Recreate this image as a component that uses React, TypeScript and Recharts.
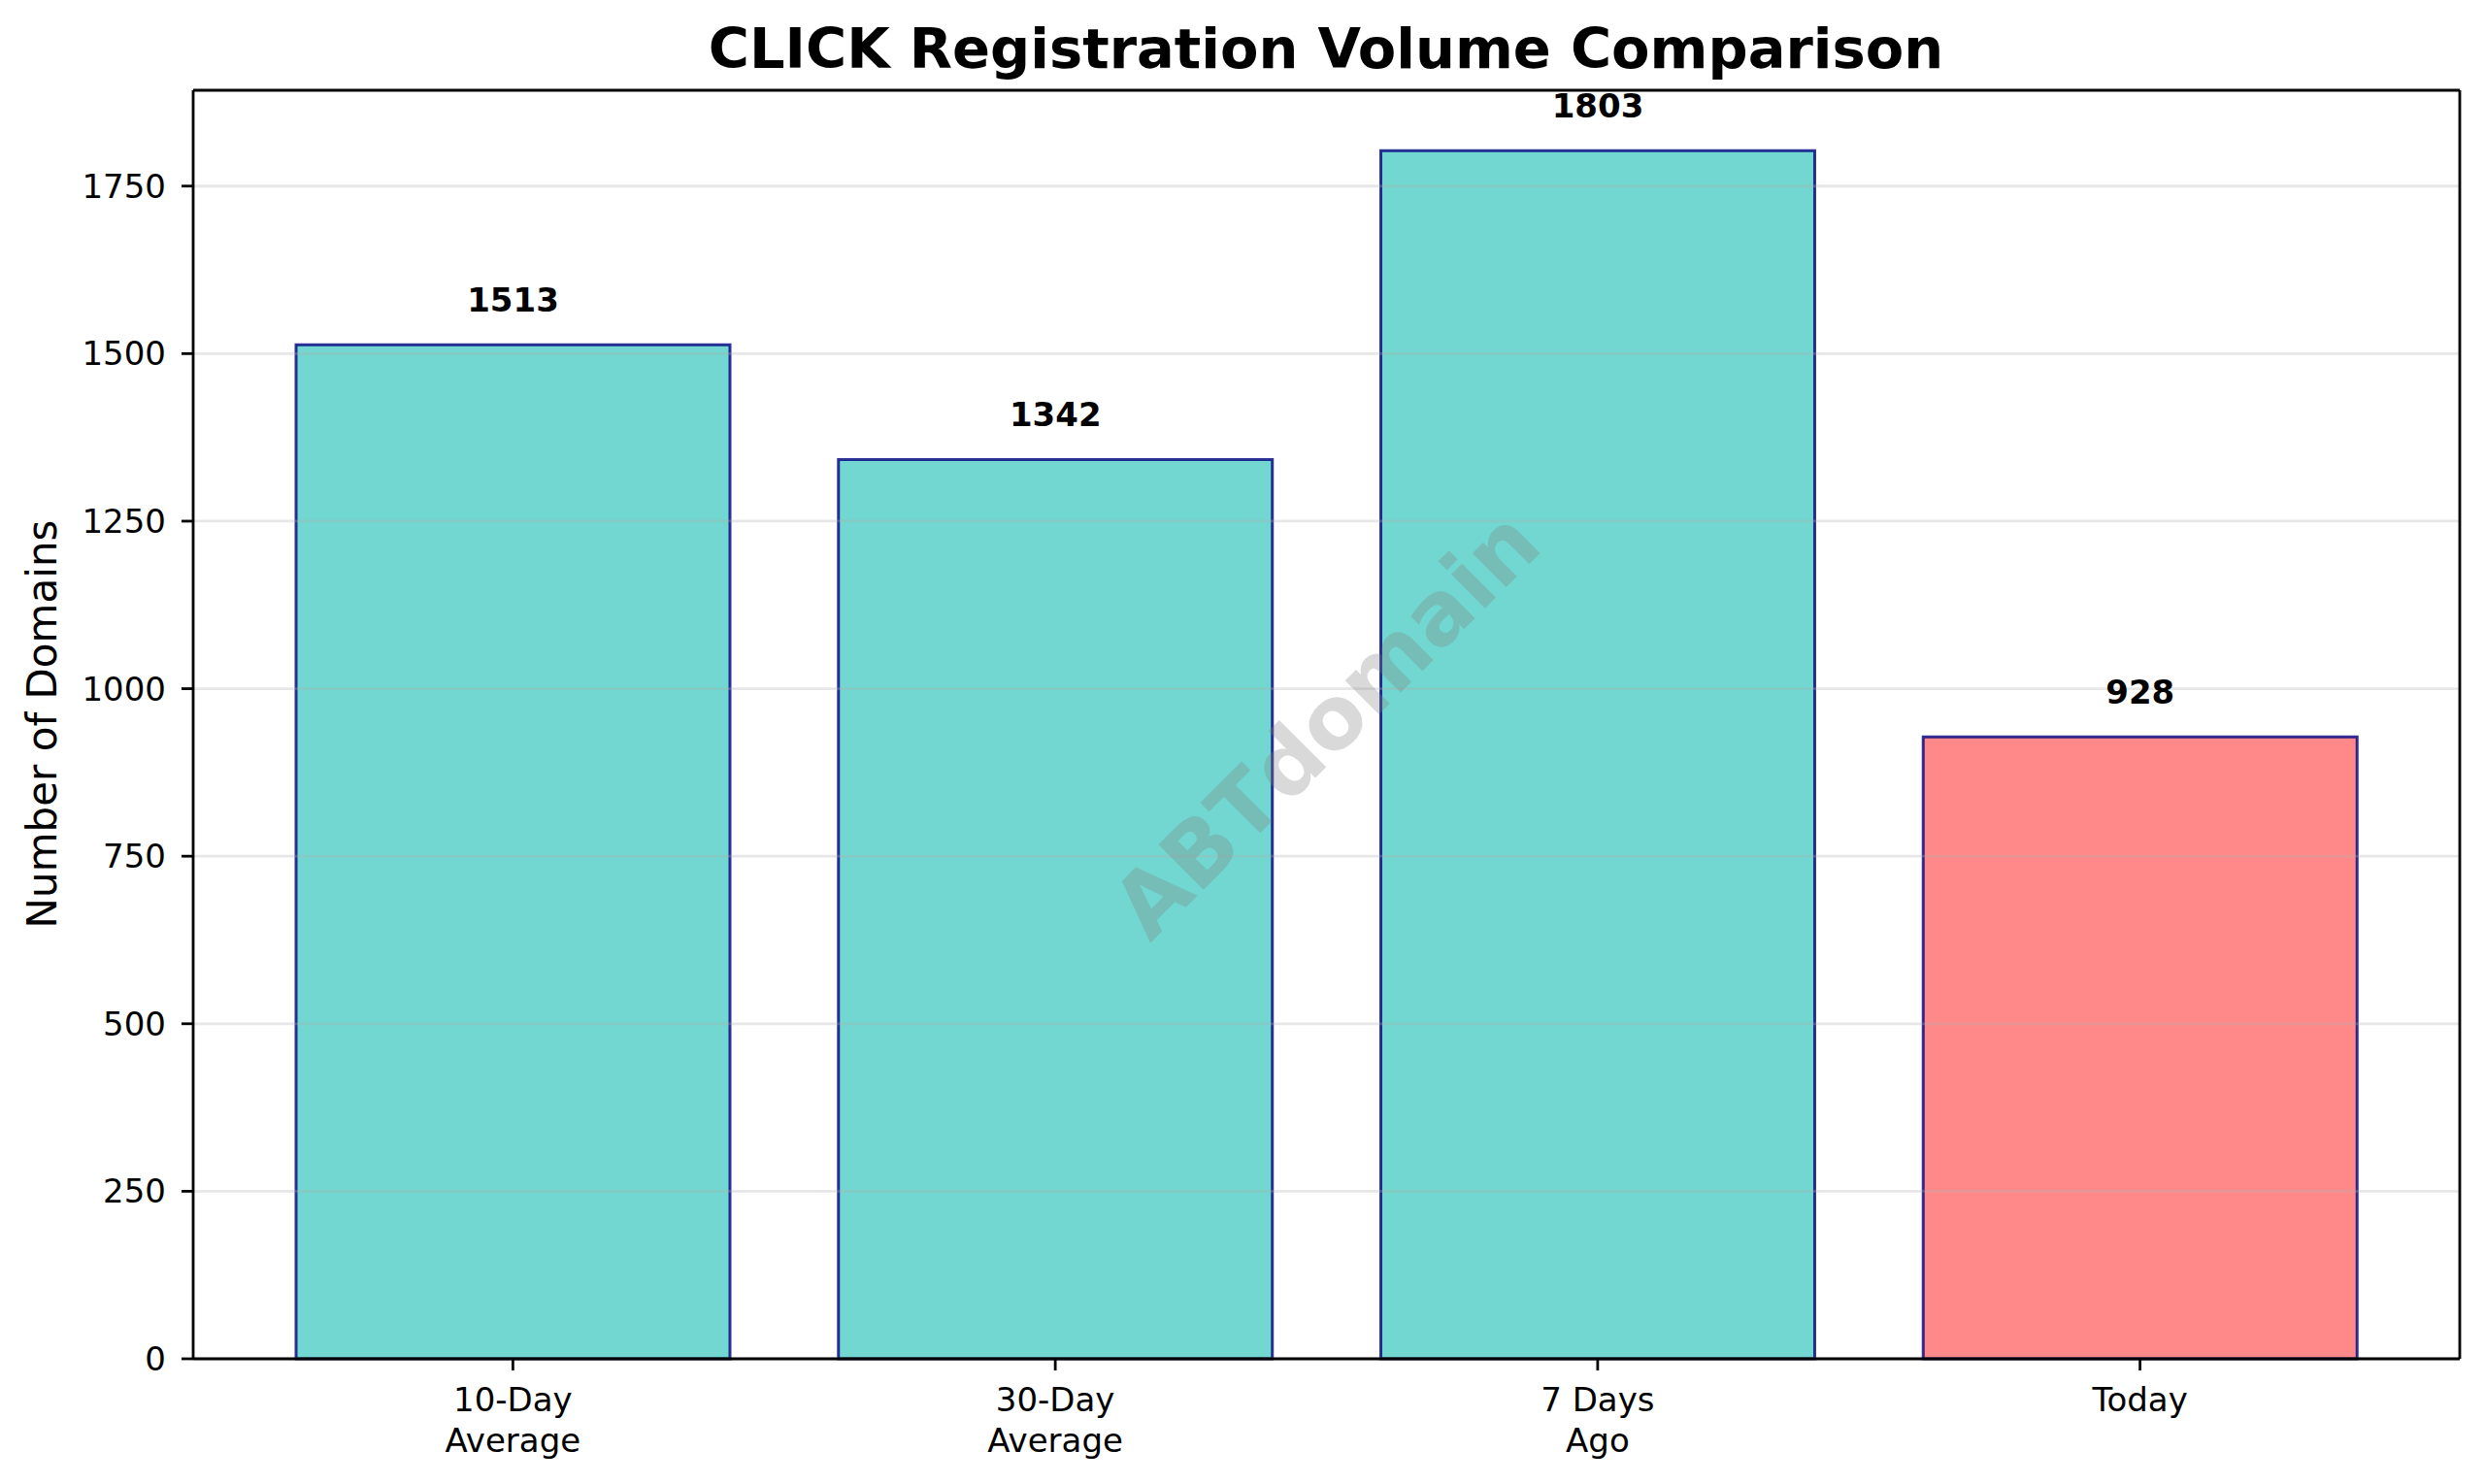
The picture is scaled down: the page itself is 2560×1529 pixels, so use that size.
import { BarChart, Bar, XAxis, YAxis, Cell, LabelList, ReferenceLine } from 'recharts';

const categories = ['10-Day\nAverage', '30-Day\nAverage', '7 Days\nAgo', 'Today'];
const volumes = [1513, 1342, 1803, 928];
const barColors = ['#4ECDC4', '#4ECDC4', '#4ECDC4', '#FF6B6B'];
const yTicks = [0, 250, 500, 750, 1000, 1250, 1500, 1750];
const yMax = 1893;

const FONT = '"DejaVu Sans", sans-serif';
const AXIS = { stroke: '#000', strokeWidth: 2.8 };

const CategoryTick = ({ x, y, payload }: any) => {
  const lines = String(payload.value).split('\n');
  return (
    <text x={x} y={y} textAnchor="middle" fontSize={34} fill="#000" fontFamily={FONT}>
      {lines.map((l, i) => (
        <tspan key={i} x={x} dy={42}>
          {l}
        </tspan>
      ))}
    </text>
  );
};

const ValueLabel = ({ x, y, width, value }: any) => (
  <text
    x={x + width / 2}
    y={y - 34}
    textAnchor="middle"
    fontSize={34}
    fontWeight="bold"
    fill="#000"
    fontFamily={FONT}
  >
    {value}
  </text>
);

export default function App() {
  const data = categories.map((name, i) => ({ name, value: volumes[i] }));

  return (
    <div style={{ position: 'absolute', left: 0, top: 0, width: 2560, height: 1529, background: '#fff' }}>
      <BarChart width={2560} height={1529} data={data} margin={{ top: 92, right: 25, bottom: 0, left: 0 }}>
        <XAxis
          dataKey="name"
          height={129}
          padding={{ left: 50, right: 50 }}
          interval={0}
          tickSize={12}
          tickMargin={0}
          tickLine={AXIS}
          axisLine={AXIS}
          tick={<CategoryTick />}
        />
        <XAxis
          xAxisId="top"
          orientation="top"
          dataKey="name"
          height={1}
          tick={false}
          tickLine={false}
          axisLine={AXIS}
        />
        <YAxis
          width={199}
          domain={[0, yMax]}
          ticks={yTicks}
          interval={0}
          tickSize={12}
          tickMargin={16}
          tickLine={AXIS}
          axisLine={AXIS}
          tick={{ fill: '#000', fontSize: 34, fontFamily: FONT }}
        />
        <YAxis
          yAxisId="right"
          orientation="right"
          width={1}
          tick={false}
          tickLine={false}
          axisLine={AXIS}
        />
        <Bar
          dataKey="value"
          barSize={447}
          stroke="#000080"
          strokeOpacity={0.8}
          strokeWidth={3}
          isAnimationActive={false}
        >
          {data.map((d, i) => (
            <Cell key={d.name} fill={barColors[i]} fillOpacity={0.8} />
          ))}
          <LabelList dataKey="value" content={<ValueLabel />} />
        </Bar>
        {yTicks.map((t) => (
          <ReferenceLine key={t} y={t} stroke="#b0b0b0" strokeOpacity={0.3} strokeWidth={2.8} />
        ))}
      </BarChart>
      <svg
        width={2560}
        height={1529}
        style={{ position: 'absolute', left: 0, top: 0, pointerEvents: 'none' }}
        fontFamily={FONT}
      >
        <text x={1366} y={70} textAnchor="middle" fontSize={57.5} fontWeight="bold" fill="#000">
          CLICK Registration Volume Comparison
        </text>
        <text transform="translate(58,746) rotate(-90)" textAnchor="middle" fontSize={42} fill="#000">
          Number of Domains
        </text>
        <text
          transform="translate(1366,746) rotate(-45)"
          textAnchor="middle"
          dominantBaseline="central"
          fontSize={90}
          fontWeight="bold"
          fill="#808080"
          fillOpacity={0.3}
        >
          ABTdomain
        </text>
      </svg>
    </div>
  );
}
